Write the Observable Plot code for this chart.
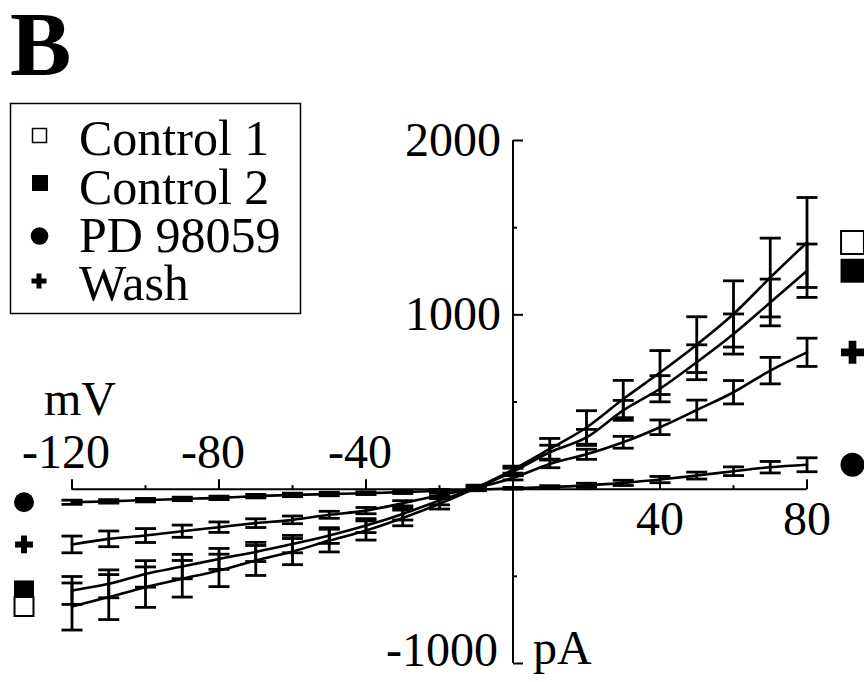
<!DOCTYPE html>
<html><head><meta charset="utf-8">
<script src="https://cdn.jsdelivr.net/npm/d3@7"></script>
<script src="https://cdn.jsdelivr.net/npm/@observablehq/plot@0.6"></script>
<style>
html,body{margin:0;padding:0;background:#fff;}
#wrap{position:relative;width:864px;height:682px;overflow:hidden;}
#chart{position:absolute;left:0;top:0;}
#overlay{position:absolute;left:0;top:0;pointer-events:none;}
</style></head><body>
<div id="wrap"><div id="chart"></div><svg id="overlay" width="864" height="682"></svg></div>
<script>
// ---- data ----
const voltage = [-120,-110,-100,-90,-80,-70,-60,-50,-40,-30,-20,-10,0,10,20,30,40,50,60,70,80];
const control1    = [-673,-619,-562,-514,-466,-409,-358,-295,-237,-165,-84,8,112,231,354,517,669,829,1005,1214,1415];
const control1Err = [135,129,116,105,93,86,75,65,55,45,30,15,20,60,96,107,126,160,190,226,258];
const control2    = [-581,-543,-486,-444,-400,-360,-315,-266,-209,-142,-65,8,100,212,297,452,576,728,890,1071,1253];
const control2Err = [80,80,76,70,60,55,50,45,40,35,25,10,20,40,46,57,75,100,115,134,153];
const pd98059     = [-75,-70,-63,-56,-50,-40,-33,-28,-23,-17,-10,-3,5,12,22,36,55,78,103,126,140];
const pd98059Err  = [12,10,10,10,10,10,10,10,8,8,8,6,5,8,12,15,18,20,25,33,40];
const wash        = [-317,-285,-266,-241,-218,-195,-176,-147,-123,-81,-35,8,65,145,200,269,355,454,556,680,785];
const washErr     = [48,45,40,35,30,25,22,20,18,15,12,8,12,22,29,34,42,57,67,76,81];
const seriesNames = ["Control 1","Control 2","PD 98059","Wash"];
const xMajorTicks = [-120,-80,-40,40,80];
const xMinorTicks = [-100,-60,-20,20,60];
const yMajorTicks = [2000,1000,-1000];
const yMinorTicks = [1500,500,-500];
const xLabelsAbove = [-120,-80,-40];
const xLabelsBelow = [40,80];
const yLabelsMid = [2000,1000];
const yLabelsLow = [-1000];
const xUnit = "mV", yUnit = "pA", panelLabel = "B";

const seriesVals = [control1, control2, pd98059, wash];
const seriesErr = [control1Err, control2Err, pd98059Err, washErr];
const rows = [];
seriesNames.forEach((name, k) => {
  voltage.forEach((v, i) => {
    rows.push({series: name, x: v, y: seriesVals[k][i], lo: seriesVals[k][i] - seriesErr[k][i], hi: seriesVals[k][i] + seriesErr[k][i]});
  });
});
const last = voltage.length - 1;
const endPt = (k, i) => [{series: seriesNames[k], x: voltage[i], y: seriesVals[k][i]}];

const FONT = "Liberation Serif, Times New Roman, serif";
const capSym = {draw(ctx){ctx.moveTo(-10.5,0); ctx.lineTo(10.5,0);}};
const vTick = L => ({draw(ctx){ctx.moveTo(0,0); ctx.lineTo(0,-L);}});
const hTick = L => ({draw(ctx){ctx.moveTo(0,0); ctx.lineTo(L,0);}});

function endMarks(i, dx, rSq, rCirc, rCross) {
  return [
    Plot.dot(endPt(1, i), {x: "x", y: "y", symbol: "square", r: rSq, fill: "black", stroke: "none", dx}),
    Plot.dot(endPt(0, i), {x: "x", y: "y", symbol: "square", r: rSq - 0.6, fill: "white", stroke: "black", strokeWidth: 2, dx}),
    Plot.dot(endPt(2, i), {x: "x", y: "y", symbol: "circle", r: rCirc, fill: "black", stroke: "none", dx}),
    Plot.dot(endPt(3, i), {x: "x", y: "y", symbol: "cross", r: rCross, fill: "black", stroke: "none", dx})
  ];
}

const chart = Plot.plot({
  width: 864, height: 682,
  marginLeft: 71.5, marginRight: 57.5, marginTop: 140, marginBottom: 19,
  style: {background: "white", fontFamily: FONT},
  x: {domain: [-120, 80], axis: null},
  y: {domain: [-1000, 2000], axis: null},
  marks: [
    Plot.ruleY([0], {stroke: "black", strokeWidth: 2}),
    Plot.ruleX([0], {stroke: "black", strokeWidth: 2}),
    Plot.dot(xMajorTicks, {x: d => d, y: () => 0, symbol: vTick(10), fill: "none", stroke: "black", strokeWidth: 2}),
    Plot.dot(xMinorTicks, {x: d => d, y: () => 0, symbol: vTick(4), fill: "none", stroke: "black", strokeWidth: 2}),
    Plot.dot(yMajorTicks, {x: () => 0, y: d => d, symbol: hTick(10), fill: "none", stroke: "black", strokeWidth: 2}),
    Plot.dot(yMinorTicks, {x: () => 0, y: d => d, symbol: hTick(4), fill: "none", stroke: "black", strokeWidth: 2}),
    Plot.text(xLabelsAbove, {x: d => d, y: () => 0, text: d => `${d}`, lineAnchor: "bottom", dy: -21, dx: -6, fontSize: 48, fontFamily: FONT, fill: "black"}),
    Plot.text(xLabelsBelow, {x: d => d, y: () => 0, text: d => `${d}`, lineAnchor: "bottom", dy: 46, fontSize: 48, fontFamily: FONT, fill: "black"}),
    Plot.text(yLabelsMid, {x: () => 0, y: d => d, text: d => `${d}`, textAnchor: "end", dx: -12, fontSize: 48, fontFamily: FONT, fill: "black"}),
    Plot.text(yLabelsLow, {x: () => 0, y: d => d, text: d => `${d}`, textAnchor: "end", lineAnchor: "bottom", dx: -15, dy: 2, fontSize: 48, fontFamily: FONT, fill: "black"}),
    Plot.text([xUnit], {x: () => -120, y: () => 0, text: d => d, textAnchor: "start", lineAnchor: "bottom", dx: -28, dy: -74, fontSize: 48, fontFamily: FONT, fill: "black"}),
    Plot.text([yUnit], {x: () => 0, y: () => -1000, text: d => d, textAnchor: "start", lineAnchor: "bottom", dx: 20, dy: 0, fontSize: 48, fontFamily: FONT, fill: "black"}),
    Plot.line(rows, {x: "x", y: "y", z: "series", stroke: "black", strokeWidth: 2.6, curve: "monotone-x"}),
    Plot.ruleX(rows, {x: "x", y1: "lo", y2: "hi", stroke: "black", strokeWidth: 2.8}),
    Plot.dot(rows, {x: "x", y: "lo", symbol: capSym, fill: "none", stroke: "black", strokeWidth: 2.8}),
    Plot.dot(rows, {x: "x", y: "hi", symbol: capSym, fill: "none", stroke: "black", strokeWidth: 2.8}),
    ...endMarks(last, 45.5, 13.5, 12, 9.7),
    ...endMarks(0, -48, 11.3, 10, 7.5)
  ]
});
document.getElementById("chart").appendChild(chart);

// ---- panel label and legend ----
const ov = d3.select("#overlay");
ov.append("text").attr("x", 10).attr("y", 75).attr("font-family", FONT).attr("font-weight", "bold")
  .attr("font-size", 92).attr("fill", "black").text(panelLabel);
ov.append("rect").attr("x", 10.5).attr("y", 103.5).attr("width", 290).attr("height", 210)
  .attr("fill", "white").attr("stroke", "black").attr("stroke-width", 1.5);
const baselines = [155, 204, 252, 300];
const g = ov.append("g");
seriesNames.forEach((name, k) => {
  g.append("text").attr("x", 79).attr("y", baselines[k]).attr("font-family", FONT).attr("font-size", 50)
    .attr("fill", "black").text(name);
});
g.append("rect").attr("x", 32.5).attr("y", 128.5).attr("width", 14).attr("height", 14).attr("fill", "white").attr("stroke", "black").attr("stroke-width", 1.5);
g.append("rect").attr("x", 32).attr("y", 175).attr("width", 16).attr("height", 16).attr("fill", "black");
g.append("circle").attr("cx", 39.5).attr("cy", 236).attr("r", 8.8).attr("fill", "black");
g.append("path").attr("transform", "translate(39,281)").attr("d", d3.symbol(d3.symbolCross, 125)()).attr("fill", "black");
</script>
</body></html>
